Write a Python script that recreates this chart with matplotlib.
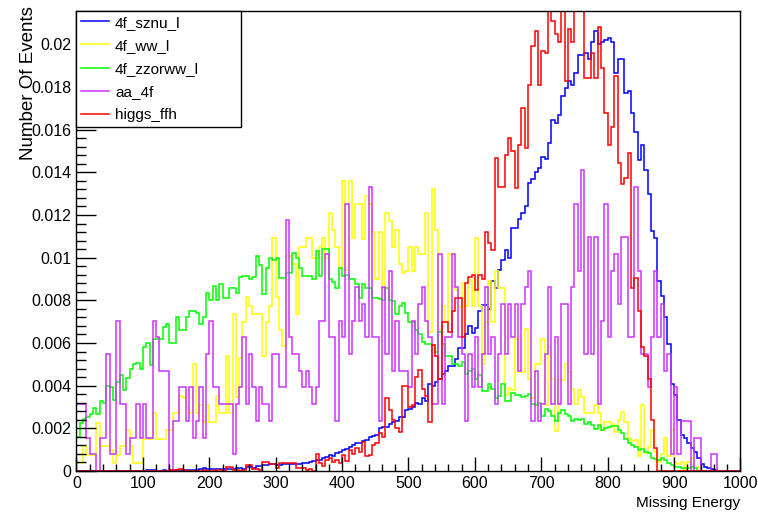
import numpy as np
import matplotlib
matplotlib.use("Agg")
import matplotlib.pyplot as plt
from matplotlib.ticker import MultipleLocator, FuncFormatter

plt.rcParams['font.family'] = ['Liberation Sans', 'DejaVu Sans']

# 200 bins of width 5 between 0 and 1000
bin_edges = np.arange(0, 1005, 5)

# normalised bin contents, in units of 1e-4
sznu_l = [
    0, 0, 0, 0, 0, 0, 0, 0, 0, 0,
    0, 0, 0, 0, 0, 0, 0, 0, 0, 0,
    0, 0.3, 0.3, 0.3, 0, 0, 0.5, 0.2, 0.3, 0.3,
    0.5, 0.3, 0.5, 0.3, 0.3, 0.5, 0.5, 0.8, 1.2, 0.8,
    0.7, 0.8, 0.8, 0.7, 0.8, 0.8, 0.9, 1.0, 1.2, 1.2,
    1.0, 2.0, 2.0, 1.5, 2.2, 2.2, 2.8, 2.8, 3.3, 3.3,
    2.8, 2.8, 3.3, 3.3, 3.3, 3.3, 3.1, 3.1, 3.9, 3.7,
    4.4, 4.8, 5.1, 5.1, 5.9, 6.4, 7.5, 7.0, 8.6, 9.0,
    9.8, 10.1, 11.4, 12.1, 12.9, 12.9, 14.2, 14.5, 16, 16.3,
    16.8, 20, 20.4, 20.7, 22, 23, 23.4, 25.4, 25.4, 28.5,
    29, 30, 32, 31.5, 34, 33, 40.6, 40, 41.7, 43,
    45.6, 47, 49, 49, 52.6, 57.8, 57.8, 64, 68, 64.6,
    67, 75, 78, 78, 76, 89, 85.6, 94, 99, 103.5,
    100, 114, 114, 118, 121, 124, 135, 137, 140, 142,
    147, 146, 153.5, 164.7, 163, 167, 175.6, 179.5, 182.6, 181,
    186.5, 195, 195, 196, 193, 201, 206, 200, 201, 201.8,
    203, 201, 186.5, 193, 193, 177, 178, 168, 159, 145.7,
    153, 141, 130, 112.6, 109, 89, 82, 72, 59.6, 41,
    35.5, 24, 16.8, 15.3, 13, 10.6, 9, 6.2, 3.1, 2,
    1.5, 1.0, 0.5, 0, 0, 0, 0, 0, 0, 0,
]

ww_l = [
    3.9, 3.9, 11.7, 7.5, 7.5, 7.5, 22.3, 11.7, 11.7, 11.7,
    9.8, 3.6, 7.5, 11.7, 11.7, 19, 11.7, 3.6, 3.6, 3.6,
    15, 15, 15, 27, 15, 15, 15, 19, 19, 27,
    27, 35, 34, 30, 27, 50.3, 27, 30.8, 23, 30.8,
    23, 23, 35, 27, 27, 54, 27, 73.6, 34.7, 53,
    70, 81.4, 77.5, 73.6, 73.6, 73.6, 54, 70, 77.5, 109,
    81.7, 66, 58.8, 101, 101, 97, 73.6, 105, 105, 109,
    109, 100, 100, 105, 109, 100, 121, 113, 105, 95,
    136, 94, 136, 109, 125, 125, 108.7, 129, 125, 112,
    90, 112, 86, 121, 117, 105, 113, 97, 93, 93.6,
    104.8, 93.6, 104.8, 101.7, 101.7, 120.7, 65, 132, 112.9, 66,
    77.5, 69.8, 101.7, 101.7, 84.9, 77, 88, 77.5, 89.5, 77.5,
    109, 77.5, 50.3, 70, 89, 70, 93.6, 86, 86, 35.5,
    39, 38, 62, 46.4, 46.4, 66.6, 43, 34, 50.3, 50.3,
    62, 30.8, 58, 43, 18.7, 42.5, 42.5, 50.3, 46.4, 38.6,
    31.6, 38, 34.7, 27, 27, 27, 30.8, 27, 19, 23,
    23, 22, 18.4, 24, 27.7, 23, 15.3, 14, 14.5, 7,
    30.8, 8.3, 11.4, 19, 9, 4.4, 8, 15.3, 7, 19,
    3.6, 3.1, 4.4, 0.5, 4.4, 6, 0, 2, 0, 0,
    0, 0, 0, 0, 0, 0, 0, 0, 0, 0,
]

zzorww_l = [
    15.7, 22.6, 24.6, 25.4, 26.9, 29.3, 26.9, 32.9, 32.1, 39.9,
    39.4, 33.2, 41.7, 45.2, 38.1, 43.6, 47.8, 50.3, 50.8, 48,
    58, 60, 49.5, 62, 62, 62, 67.4, 68.7, 60, 60,
    72, 66, 66, 72, 75, 75, 74, 69, 72, 83.5,
    80, 86.6, 80, 87.7, 81, 81, 85.8, 85.8, 83.5, 91,
    91.5, 91.5, 90, 91, 101, 96.7, 83, 95, 99.8, 99,
    100, 90.5, 90.5, 93, 93, 102, 100, 95, 91.5, 91.5,
    91.5, 90, 103, 91.5, 104, 104, 90, 88.5, 86, 95,
    91.5, 92, 90, 90, 87.7, 81, 87.7, 86, 86, 81,
    81, 80.6, 80, 86, 80, 79.9, 73.6, 77.5, 78.6, 74,
    69.8, 69.8, 66, 64, 60.4, 59.3, 59.3, 59, 55.7, 65,
    59.6, 54, 54, 50.3, 50, 49, 51, 45.3, 46.9, 48,
    43.3, 44.8, 37.4, 37.4, 41, 38.6, 34, 35, 41, 32.7,
    33, 36.7, 35.8, 35.8, 34.5, 35, 36.3, 31.6, 30.8, 32,
    26, 29, 28, 26, 23.5, 27.4, 28.5, 26.5, 26, 23.5,
    24.6, 24, 24.6, 22, 23, 21.7, 19.6, 21.7, 19, 20,
    20.5, 21, 21.3, 19, 18, 15, 13, 12, 11.4, 9.8,
    10.5, 9, 8.5, 6.2, 5.6, 5.1, 6.2, 5.1, 3.6, 2.8,
    2, 2, 1.6, 1.2, 1.6, 2, 1.2, 0, 0, 0,
    0, 0, 0, 0, 0, 0, 0, 0, 0, 0,
]

higgs_ffh = [
    0, 0, 0, 0, 0, 0, 0, 0, 0, 0,
    0, 0, 0, 0, 0, 0, 0, 0, 0, 0,
    0, 0, 0, 0, 0, 0, 0, 0, 0.3, 0.5,
    0.5, 0.8, 0.3, 0, 0, 0, 0, 0, 0.3, 0,
    0, 0, 0.3, 0.3, 0, 2, 2, 0.5, 0.5, 0,
    0.5, 2.8, 2.8, 1, 1, 0.5, 4.4, 4.4, 3.3, 3.3,
    1.5, 3.6, 3.6, 3.9, 3.9, 3.9, 1.2, 1.5, 1.2, 0.5,
    0.8, 0.2, 7.9, 3.6, 2.3, 5.1, 5.9, 4.4, 5.1, 3.9,
    7.5, 4.8, 9.8, 7.9, 10.6, 9, 13.7, 7, 7.5, 12.1,
    12.9, 17.6, 16, 34, 28.8, 23.8, 20, 18.4, 40, 40,
    30, 31, 44, 47.5, 38.6, 35, 23, 58.9, 54, 43,
    70, 70, 65, 75, 81, 81, 62.7, 88, 91, 92,
    85, 92, 90, 112, 107, 103.5, 146.8, 133, 133, 148,
    156, 150, 132.8, 153, 170, 151.5, 181, 199, 206, 181,
    197, 196, 230, 211, 204.7, 201, 230, 183, 207, 201,
    230, 230, 230, 184, 184, 196, 184, 208, 189, 168,
    153, 161, 185, 144.5, 134.7, 137.5, 149, 86, 90.5, 75,
    58, 54, 43, 24, 10.6, 0, 0, 0, 0, 0,
    0, 0, 0, 0, 0, 0, 0, 0, 0, 0,
    0, 0, 0, 0, 0, 0, 0, 0, 0, 0,
]

# aa_4f has few events: raw counts times one event weight
aa_4f_counts = [
    4, 4, 4, 2, 1, 1, 0, 2, 2, 7,
    1, 1, 9, 4, 4, 1, 2, 2, 4, 2,
    4, 2, 2, 9, 8, 6, 6, 6, 0, 3,
    3, 5, 5, 3, 5, 2, 3, 5, 2, 7,
    9, 5, 5, 4, 4, 4, 4, 1, 4, 5,
    8, 4, 7, 5, 3, 5, 4, 4, 3, 7,
    7, 5, 5, 15, 8, 7, 7, 6, 5, 6,
    5, 4, 5, 9, 9, 13, 8, 8, 3, 9,
    8, 16, 7, 9, 11, 9, 10, 8, 17, 8,
    8, 3, 11, 7, 12, 6, 9, 6, 6, 6,
    5, 9, 7, 10, 11, 9, 8, 4, 4, 13,
    4, 8, 8, 13, 11, 8, 7, 3, 7, 5,
    8, 5, 7, 11, 7, 8, 4, 7, 10, 7,
    10, 8, 10, 6, 10, 11, 12, 3, 6, 3,
    4, 7, 11, 4, 8, 4, 10, 10, 4, 11,
    16, 12, 18, 7, 14, 7, 14, 4, 9, 16,
    8, 12, 13, 10, 14, 14, 8, 8, 17, 12,
    7, 7, 5, 8, 12, 8, 10, 6, 7, 1,
    5, 1, 3, 3, 3, 0, 2, 2, 0, 0,
    0, 1, 1, 0, 0, 0, 0, 0, 0, 0,
]
aa_4f_weight = 7.83e-4

labels = ['4f_sznu_l', '4f_ww_l', '4f_zzorww_l', 'aa_4f', 'higgs_ffh']
colors = ['#0000ff', '#ffff00', '#00ff00', '#cc33ff', '#ff0000']

hists = [np.array(sznu_l) * 1e-4,
         np.array(ww_l) * 1e-4,
         np.array(zzorww_l) * 1e-4,
         np.array(aa_4f_counts) * aa_4f_weight,
         np.array(higgs_ffh) * 1e-4]

fig = plt.figure(figsize=(7.58, 5.12), dpi=100)
ax = fig.add_axes([0.1009, 0.0801, 0.876, 0.8984])

for h, lab, col in zip(hists, labels, colors):
    ax.stairs(h, bin_edges, color=col, lw=1.1, label=lab)

ax.set_xlim(0, 1000)
ax.set_ylim(0, 0.02156)

ax.xaxis.set_major_locator(MultipleLocator(100))
ax.xaxis.set_minor_locator(MultipleLocator(20))
ax.yaxis.set_major_locator(MultipleLocator(0.002))
ax.yaxis.set_minor_locator(MultipleLocator(0.0004))
ax.yaxis.set_major_formatter(FuncFormatter(lambda v, p: '%g' % round(v, 6)))

ax.tick_params(which='both', direction='in', top=False, right=False, width=1)
ax.tick_params(axis='y', which='major', length=14.4, pad=3.5, labelsize=11.5)
ax.tick_params(axis='y', which='minor', length=7.2)
ax.tick_params(axis='x', which='major', length=10, pad=3.5, labelsize=11.5)
ax.tick_params(axis='x', which='minor', length=5)

for s in ax.spines.values():
    s.set_linewidth(1.0)

ax.set_xlabel('Missing Energy', loc='right', fontsize=11, labelpad=4)
ax.set_ylabel('Number Of Events', loc='top', fontsize=13.5)
ax.yaxis.set_label_coords(-0.06, 1.01)

leg = ax.legend(loc='upper left', bbox_to_anchor=(0.0, 0.0, 0.2485, 1.0), mode='expand',
                borderaxespad=0, fontsize=11, frameon=True, fancybox=False,
                edgecolor='black', framealpha=1, borderpad=0.3, labelspacing=0.6,
                handlelength=1.85, handletextpad=0.37)
leg.get_frame().set_linewidth(1.0)

fig.savefig('out.png', dpi=100)
